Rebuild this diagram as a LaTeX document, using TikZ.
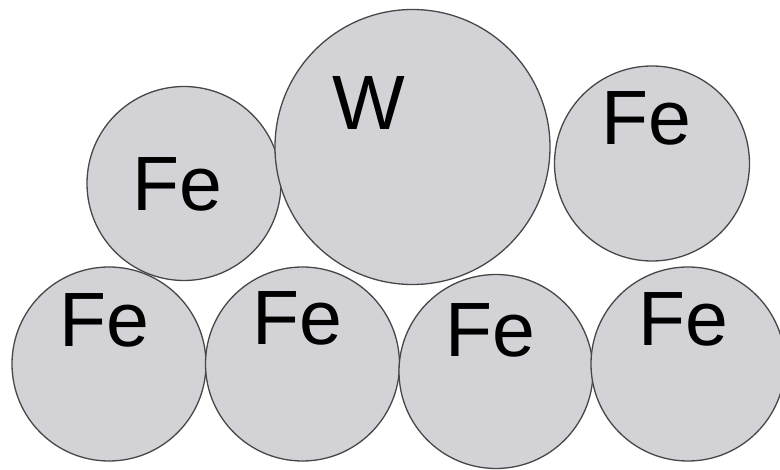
\documentclass[tikz,border=0pt]{standalone}
\usepackage{fontspec}
\setmainfont{Liberation Sans}
\begin{document}
\begin{tikzpicture}[x=1pt,y=-1pt,
  atom/.style={circle, draw=black!72, line width=1.3pt, fill={rgb,255:red,211;green,210;blue,215}, inner sep=0pt, minimum size=#1},
  elem/.style={anchor=base, inner sep=0pt, font=\fontsize{77}{77}\selectfont}]
\useasboundingbox (0,0) rectangle (780,470);
% atoms
\node[atom=194pt] (fe1) at (184,183.5) {};
\node[atom=275pt] (w) at (412.5,147) {};
\node[atom=195pt] (fe2) at (652,163.5) {};
\node[atom=194pt] (fe3) at (109,364) {};
\node[atom=194pt] (fe4) at (302.5,364) {};
\node[atom=194pt] (fe5) at (496,371.5) {};
\node[atom=194pt] (fe6) at (688,364) {};
% element labels
\node[elem] (l1) at (177.5,211) {Fe};
\node[elem] (lw) at (369,130) {W};
\node[elem] (l2) at (646.5,145) {Fe};
\node[elem] (l3) at (104,347) {Fe};
\node[elem] (l4) at (297,345) {Fe};
\node[elem] (l5) at (490,357) {Fe};
\node[elem] (l6) at (683,346) {Fe};
\end{tikzpicture}
\end{document}
